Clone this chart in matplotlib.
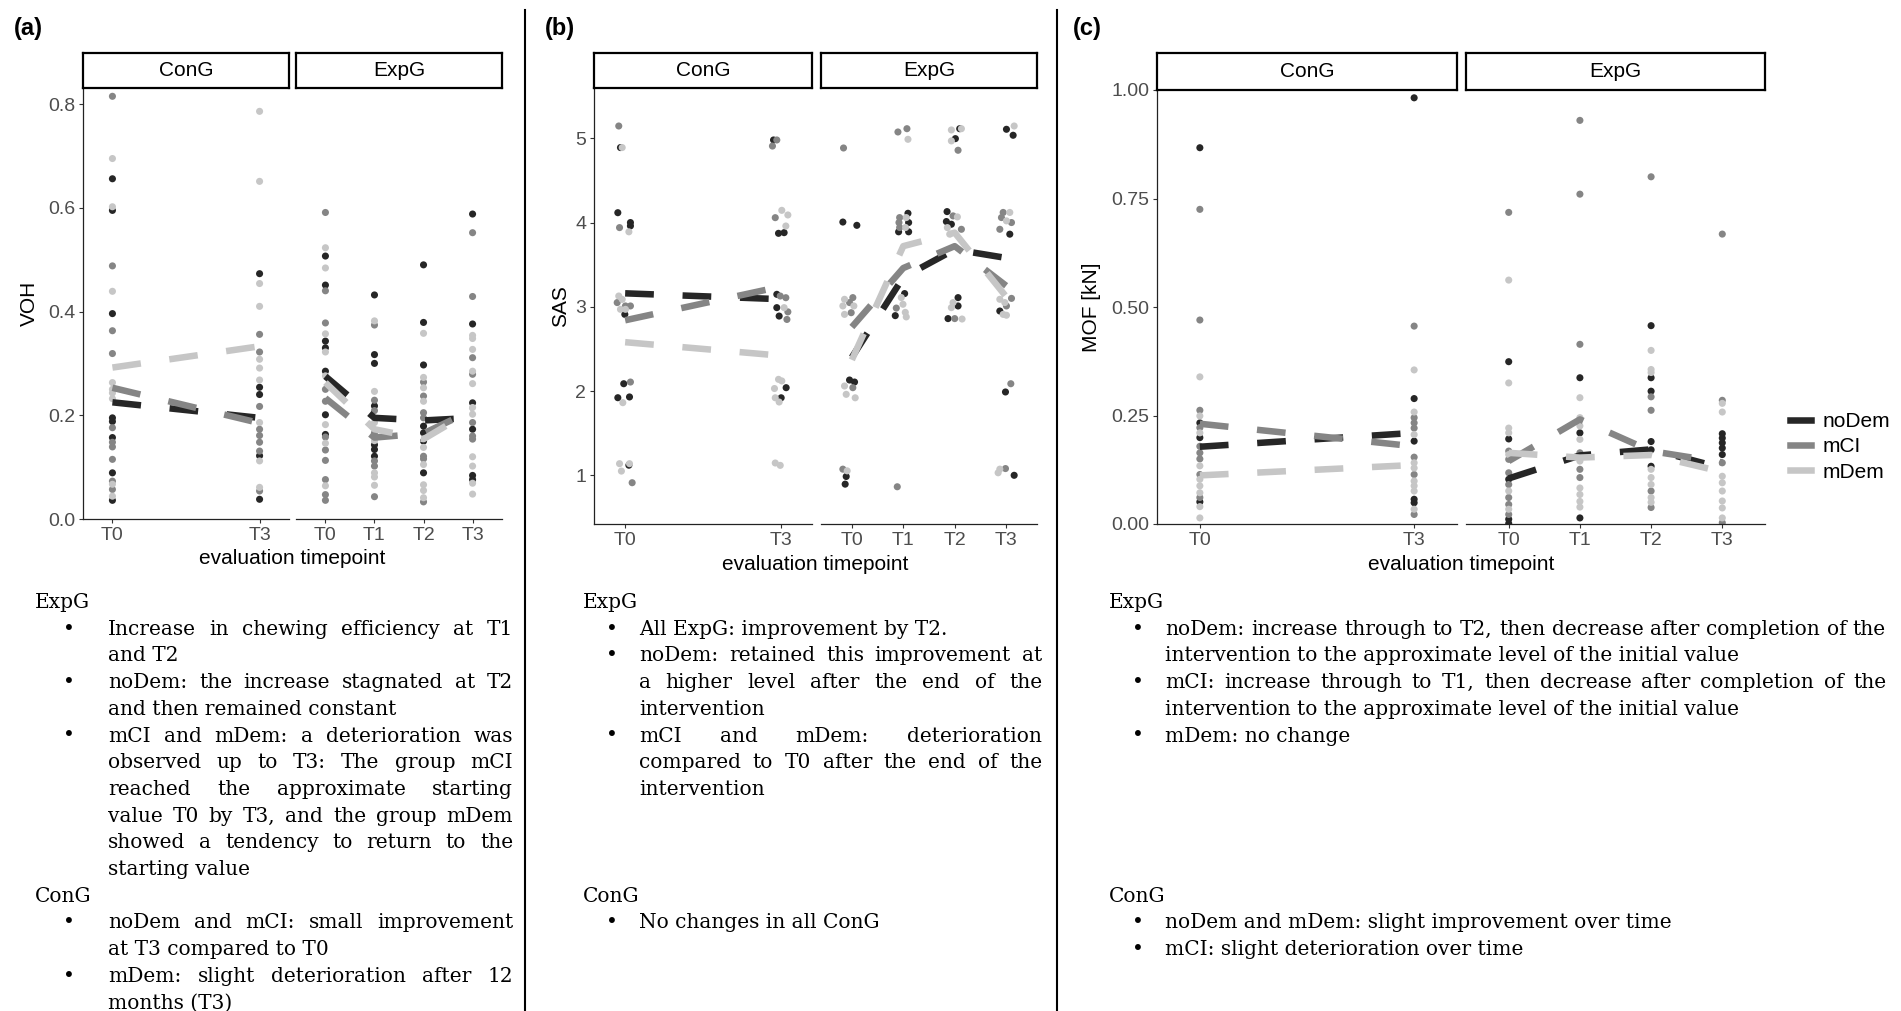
import matplotlib
matplotlib.use('Agg')
import matplotlib.pyplot as plt
from matplotlib.lines import Line2D

W, H = 1901, 1011

groups = ['noDem', 'mCI', 'mDem']
group_colors = ['#262626', '#858585', '#C6C6C6']
con_times = ['T0', 'T3']
exp_times = ['T0', 'T1', 'T2', 'T3']

# (a) VOH, one list per timepoint
voh_con_noDem = [[0.656, 0.595, 0.396, 0.195, 0.188, 0.157, 0.089, 0.036],
                 [0.473, 0.254, 0.240, 0.122, 0.038]]
voh_con_mCI = [[0.815, 0.488, 0.363, 0.319, 0.176, 0.148, 0.139, 0.115, 0.073, 0.057],
               [0.356, 0.322, 0.217, 0.173, 0.161, 0.148, 0.131, 0.054]]
voh_con_mDem = [[0.695, 0.602, 0.439, 0.263, 0.250, 0.243, 0.232, 0.067, 0.044],
                [0.786, 0.651, 0.454, 0.410, 0.308, 0.291, 0.268, 0.186, 0.112, 0.061]]
voh_exp_noDem = [[0.507, 0.451, 0.343, 0.330, 0.285, 0.201, 0.163],
                 [0.432, 0.317, 0.300, 0.218, 0.143, 0.134, 0.121],
                 [0.490, 0.379, 0.297, 0.179, 0.166, 0.150, 0.089],
                 [0.588, 0.376, 0.224, 0.173, 0.084, 0.076]]
voh_exp_mCI = [[0.591, 0.440, 0.378, 0.250, 0.227, 0.158, 0.133, 0.113, 0.076, 0.047, 0.036],
               [0.374, 0.229, 0.209, 0.166, 0.112, 0.102, 0.043],
               [0.264, 0.237, 0.205, 0.195, 0.121, 0.116, 0.033],
               [0.552, 0.429, 0.311, 0.279, 0.186, 0.160, 0.154]]
voh_exp_mDem = [[0.523, 0.484, 0.357, 0.322, 0.276, 0.182, 0.146, 0.064],
                [0.382, 0.246, 0.186, 0.151, 0.089, 0.081, 0.065],
                [0.358, 0.273, 0.253, 0.227, 0.138, 0.105, 0.066, 0.055, 0.041],
                [0.354, 0.348, 0.327, 0.285, 0.261, 0.215, 0.202, 0.120, 0.102, 0.069, 0.048]]
voh_con_means = [[0.225, 0.195], [0.253, 0.185], [0.292, 0.333]]
voh_exp_means = [[0.275, 0.195, 0.190, 0.195],
                 [0.233, 0.157, 0.165, 0.210],
                 [0.263, 0.173, 0.154, 0.210]]

# (b) SAS, jittered points as (x offset, value)
sas_con_noDem = [[(-0.030, 4.89), (-0.047, 4.117), (0.034, 4.0), (0.034, 3.96), (-0.002, 2.91),
                  (-0.009, 2.087), (-0.047, 1.921), (0.028, 1.93), (0.024, 1.12)],
                 [(-0.047, 4.98), (-0.015, 3.872), (0.021, 3.88), (-0.026, 3.148), (-0.026, 2.99),
                  (-0.011, 2.89), (0.034, 2.04), (0.002, 1.92)]]
sas_con_mCI = [[(-0.041, 5.146), (-0.036, 3.94), (-0.051, 3.05), (0.002, 3.01), (0.034, 3.01),
                (0.034, 2.107), (0.045, 0.912)],
               [(-0.026, 4.98), (-0.054, 4.908), (-0.036, 4.058), (-0.004, 3.128), (0.032, 3.108),
                (0.045, 2.94), (0.039, 2.85)]]
sas_con_mDem = [[(-0.019, 4.89), (0.024, 3.89), (-0.041, 3.128), (-0.019, 3.088), (-0.030, 2.97),
                 (0.002, 2.97), (-0.015, 1.862), (-0.036, 1.138), (0.028, 1.138), (-0.024, 1.05)],
                [(0.006, 4.145), (0.045, 4.09), (0.032, 3.959), (0.021, 2.99), (-0.015, 2.139),
                 (0.006, 2.12), (-0.041, 2.03), (-0.036, 1.92), (-0.011, 1.87), (-0.036, 1.146),
                 (-0.004, 1.118)]]
sas_exp_noDem = [[(-0.175, 4.006), (0.097, 3.967), (-0.045, 2.131), (0.052, 2.107), (-0.110, 0.986),
                  (-0.130, 0.895)],
                 [(0.091, 4.11), (0.104, 4.0), (-0.091, 3.89), (0.104, 3.89), (0.026, 3.157),
                  (-0.156, 2.895)],
                 [(0.097, 5.114), (0.013, 4.996), (-0.149, 4.13), (-0.162, 4.012), (-0.065, 3.98),
                  (0.065, 3.109), (0.065, 3.01), (-0.130, 2.86)],
                 [(0.006, 5.107), (0.136, 5.036), (0.071, 3.862), (-0.123, 2.95), (-0.013, 1.989),
                  (0.156, 1.0)]]
sas_exp_mCI = [[(-0.162, 4.885), (0.019, 3.109), (-0.045, 3.05), (-0.013, 2.93), (0.019, 2.04),
                (-0.175, 1.073)],
               [(-0.104, 5.075), (0.071, 5.114), (-0.071, 4.059), (-0.084, 4.0), (-0.071, 3.941),
                (-0.136, 2.985), (-0.117, 0.864)],
               [(0.065, 4.858), (-0.032, 4.079), (0.130, 3.92), (0.0, 2.86)],
               [(-0.058, 4.12), (-0.091, 4.059), (0.104, 4.0), (-0.123, 3.92), (0.104, 3.1),
                (0.006, 3.01), (0.091, 2.087), (-0.013, 1.08)]]
sas_exp_mDem = [[(-0.143, 3.089), (-0.175, 3.01), (0.039, 3.01), (-0.143, 2.91), (-0.143, 2.06),
                 (-0.110, 1.961), (0.065, 1.92), (-0.091, 1.053)],
                [(0.091, 4.988), (0.058, 4.059), (0.045, 3.941), (-0.039, 3.11), (-0.006, 3.03),
                 (0.039, 2.934), (0.058, 2.88)],
                [(-0.065, 5.099), (0.130, 5.114), (-0.065, 4.969), (0.052, 4.067), (-0.143, 3.94),
                 (-0.097, 3.862), (-0.032, 3.05), (-0.065, 2.99), (0.143, 2.855)],
                [(0.156, 5.146), (0.071, 4.12), (0.006, 4.02), (-0.123, 3.089), (-0.026, 3.05),
                 (-0.058, 2.91), (0.006, 2.9), (-0.123, 1.073), (-0.156, 1.03)]]
sas_con_means = [[3.16, 3.09], [2.84, 3.24], [2.58, 2.42]]
sas_exp_means = [[2.40, 3.35, 3.68, 3.58],
                 [2.76, 3.46, 3.72, 3.25],
                 [2.37, 3.72, 3.88, 3.12]]

# (c) MOF [kN]
mof_con_noDem = [[0.867, 0.233, 0.199, 0.051],
                 [0.982, 0.289, 0.191, 0.057, 0.049]]
mof_con_mCI = [[0.725, 0.470, 0.262, 0.222, 0.179, 0.164, 0.150, 0.114, 0.061],
               [0.456, 0.245, 0.233, 0.221, 0.154, 0.114, 0.022]]
mof_con_mDem = [[0.339, 0.249, 0.210, 0.134, 0.103, 0.088, 0.072, 0.040, 0.014],
                [0.355, 0.258, 0.206, 0.141, 0.129, 0.099, 0.088, 0.076, 0.034]]
mof_exp_noDem = [[0.374, 0.196, 0.103, 0.011, 0.001],
                 [0.337, 0.210, 0.014],
                 [0.457, 0.337, 0.306, 0.190, 0.171, 0.133],
                 [0.208, 0.198, 0.187, 0.175, 0.160]]
mof_exp_mCI = [[0.718, 0.168, 0.149, 0.118, 0.091, 0.061, 0.045, 0.022],
               [0.930, 0.760, 0.414, 0.164, 0.126, 0.107],
               [0.800, 0.293, 0.262, 0.076, 0.038],
               [0.668, 0.285, 0.141, 0.003]]
mof_exp_mDem = [[0.562, 0.325, 0.221, 0.210, 0.160, 0.076, 0.034],
                [0.291, 0.245, 0.226, 0.195, 0.145, 0.083, 0.068, 0.052, 0.039],
                [0.400, 0.356, 0.349, 0.126, 0.107, 0.091, 0.061, 0.050],
                [0.278, 0.258, 0.110, 0.095, 0.076, 0.053, 0.037, 0.014]]
mof_con_means = [[0.178, 0.210], [0.231, 0.179], [0.112, 0.136]]
mof_exp_means = [[0.105, 0.158, 0.172, 0.129],
                 [0.145, 0.241, 0.168, 0.142],
                 [0.164, 0.153, 0.159, 0.120]]

voh_ticks = [0.0, 0.2, 0.4, 0.6, 0.8]
voh_labels = ['0.0', '0.2', '0.4', '0.6', '0.8']
sas_ticks = [1, 2, 3, 4, 5]
sas_labels = ['1', '2', '3', '4', '5']
mof_ticks = [0.0, 0.25, 0.5, 0.75, 1.0]
mof_labels = ['0.00', '0.25', '0.50', '0.75', '1.00']

notes_a_exp = [['Increase in chewing efficiency at T1', 'and T2'],
               ['noDem: the increase stagnated at T2', 'and then remained constant'],
               ['mCI and mDem: a deterioration was', 'observed up to T3: The group mCI',
                'reached the approximate starting', 'value T0 by T3, and the group mDem',
                'showed a tendency to return to the', 'starting value']]
notes_a_con = [['noDem and mCI: small improvement', 'at T3 compared to T0'],
               ['mDem: slight deterioration after 12', 'months (T3)']]
notes_b_exp = [['All ExpG: improvement by T2.'],
               ['noDem: retained this improvement at', 'a higher level after the end of the',
                'intervention'],
               ['mCI and mDem: deterioration', 'compared to T0 after the end of the',
                'intervention']]
notes_b_con = [['No changes in all ConG']]
notes_c_exp = [['noDem: increase through to T2, then decrease after completion of the',
                'intervention to the approximate level of the initial value'],
               ['mCI: increase through to T1, then decrease after completion of the',
                'intervention to the approximate level of the initial value'],
               ['mDem: no change']]
notes_c_con = [['noDem and mDem: slight improvement over time'],
               ['mCI: slight deterioration over time']]

plt.rcParams['font.family'] = ['Liberation Sans', 'DejaVu Sans']
fig = plt.figure(figsize=(W / 100, H / 100), dpi=100)
renderer = fig.canvas.get_renderer()


def fx(x):
    return x / W


def fy(y):
    return 1 - y / H


def px_axes(x0, y0, x1, y1):
    return fig.add_axes([fx(x0), fy(y1), (x1 - x0) / W, (y1 - y0) / H])


def draw_facet(box, strip_top, title, times, points, means, ylim, yticks, ylabels,
               first, jitter=False):
    x0, y0, x1, y1 = box
    ax = px_axes(x0, y0, x1, y1)
    for g, col in enumerate(group_colors):
        for i, vals in enumerate(points[g]):
            if jitter:
                xs = [i + dx for dx, _ in vals]
                ys = [v for _, v in vals]
            else:
                xs = [i] * len(vals)
                ys = vals
            ax.scatter(xs, ys, s=26, color=col, edgecolors='none', zorder=2)
    for g, col in enumerate(group_colors):
        ax.plot(range(len(times)), means[g], color=col, lw=4.7,
                linestyle=(0, (4.4, 4.4)), zorder=3)
    if len(times) == 2:
        ax.set_xlim(-0.2, 1.2)
    else:
        ax.set_xlim(-0.6, 3.6)
    ax.set_ylim(*ylim)
    ax.set_xticks(range(len(times)))
    ax.set_xticklabels(times)
    ax.spines['top'].set_visible(False)
    ax.spines['right'].set_visible(False)
    for s in ('left', 'bottom'):
        ax.spines[s].set_linewidth(0.9)
        ax.spines[s].set_color('#222222')
    ax.tick_params(direction='out', length=3, width=0.8, color='#333333',
                   labelsize=14, labelcolor='#4D4D4D', pad=2.5)
    if first:
        ax.set_yticks(yticks)
        ax.set_yticklabels(ylabels)
    else:
        ax.spines['left'].set_visible(False)
        ax.set_yticks([])
    sax = px_axes(x0, strip_top, x1, y0)
    sax.set_xticks([])
    sax.set_yticks([])
    for s in sax.spines.values():
        s.set_linewidth(1.6)
        s.set_color('black')
    sax.text(0.5, 0.5, title, ha='center', va='center', fontsize=15,
             transform=sax.transAxes)
    return ax


def draw_panel(con_box, exp_box, strip_top, con_pts, exp_pts, con_means, exp_means,
               ylim, yticks, ylabels, ytitle, ytitle_x, xtitle_y, jitter=False):
    draw_facet(con_box, strip_top, 'ConG', con_times, con_pts, con_means,
               ylim, yticks, ylabels, True, jitter)
    draw_facet(exp_box, strip_top, 'ExpG', exp_times, exp_pts, exp_means,
               ylim, yticks, ylabels, False, jitter)
    yc = (con_box[1] + con_box[3]) / 2
    fig.text(fx(ytitle_x), fy(yc), ytitle, rotation=90, ha='center', va='center', fontsize=15)
    xc = (con_box[0] + exp_box[2]) / 2
    fig.text(fx(xc), fy(xtitle_y), 'evaluation timepoint', ha='center', va='center', fontsize=15)


def put_line(x0, x1, yb, text, justify):
    kw = dict(fontsize=14.5, family='DejaVu Serif', color='black', va='baseline', ha='left')
    words = text.split(' ')
    if not justify or len(words) < 2:
        fig.text(fx(x0), fy(yb), text, **kw)
        return
    objs = [fig.text(0, 0, w, **kw) for w in words]
    widths = [o.get_window_extent(renderer).width for o in objs]
    gap = (x1 - x0 - sum(widths)) / (len(words) - 1)
    x = x0
    for o, w in zip(objs, widths):
        o.set_position((fx(x), fy(yb)))
        x += w + gap


def draw_notes(x_head, x_bullet, x_text, x_right, exp_items, con_items, con_row=11):
    base, step = 608, 26.7
    kw = dict(fontsize=14.5, family='DejaVu Serif', va='baseline', ha='left')
    for head, items, row in (('ExpG', exp_items, 0), ('ConG', con_items, con_row)):
        fig.text(fx(x_head), fy(base + step * row), head, **kw)
        row += 1
        for item in items:
            fig.text(fx(x_bullet), fy(base + step * row), '\u2022', **kw)
            for k, line in enumerate(item):
                put_line(x_text, x_right, base + step * row, line, k < len(item) - 1)
                row += 1


draw_panel((83, 88, 289, 519), (296, 88, 502, 519), 53,
           [voh_con_noDem, voh_con_mCI, voh_con_mDem],
           [voh_exp_noDem, voh_exp_mCI, voh_exp_mDem],
           voh_con_means, voh_exp_means, (0, 0.831), voh_ticks, voh_labels,
           'VOH', 29, 559)
draw_panel((594, 88, 812, 524), (821, 88, 1037, 524), 53,
           [sas_con_noDem, sas_con_mCI, sas_con_mDem],
           [sas_exp_noDem, sas_exp_mCI, sas_exp_mDem],
           sas_con_means, sas_exp_means, (0.422, 5.597), sas_ticks, sas_labels,
           'SAS', 561, 565, jitter=True)
draw_panel((1157, 90, 1457, 524), (1466, 90, 1765, 524), 53,
           [mof_con_noDem, mof_con_mCI, mof_con_mDem],
           [mof_exp_noDem, mof_exp_mCI, mof_exp_mDem],
           mof_con_means, mof_exp_means, (0, 1.0), mof_ticks, mof_labels,
           'MOF [kN]', 1091, 565)

handles = [Line2D([], [], color=c, lw=4.7) for c in group_colors]
fig.legend(handles, groups, loc='center left', bbox_to_anchor=(fx(1790), fy(447)),
           frameon=False, fontsize=15, handlelength=1.0, handletextpad=0.55,
           labelspacing=0.3, borderpad=0, borderaxespad=0)

for lab, x in (('(a)', 14), ('(b)', 545), ('(c)', 1073)):
    fig.text(fx(x), fy(29), lab, ha='left', va='center', fontsize=17, fontweight='bold')

for x in (525, 1057):
    fig.add_artist(Line2D([fx(x), fx(x)], [fy(10), fy(H)], transform=fig.transFigure,
                          color='black', lw=1.5))

draw_notes(35, 63, 108, 513, notes_a_exp, notes_a_con)
draw_notes(583, 606, 639, 1042, notes_b_exp, notes_b_con)
draw_notes(1109, 1132, 1165, 1886, notes_c_exp, notes_c_con)

fig.savefig('out.png', dpi=100, facecolor='white')
